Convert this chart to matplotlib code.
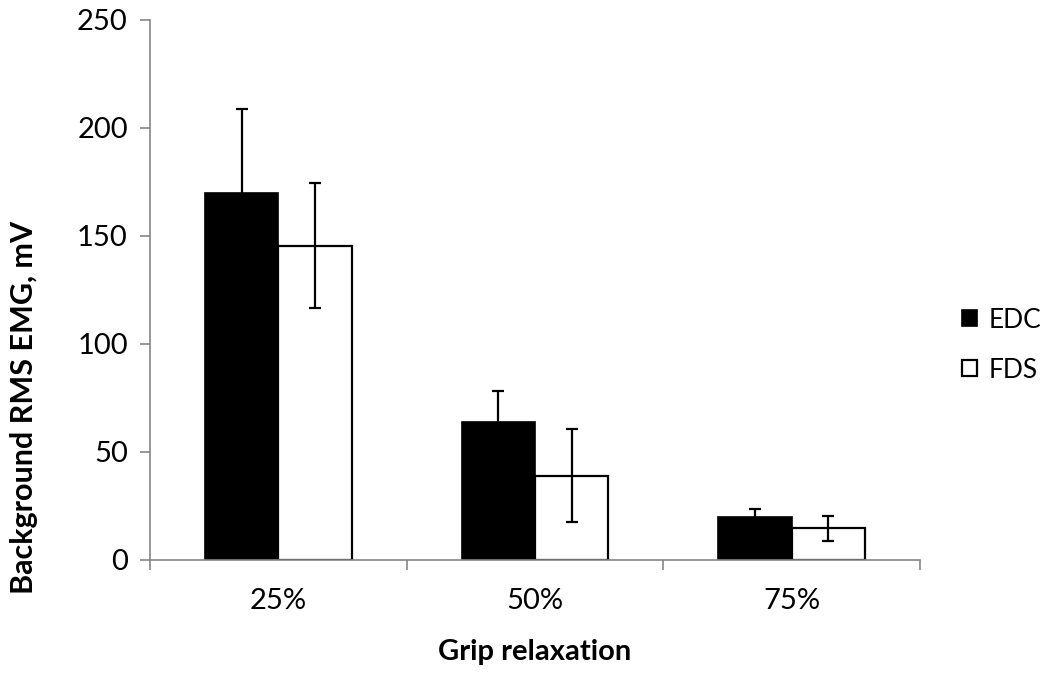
import matplotlib.pyplot as plt
import numpy as np

plt.rcParams['font.family'] = ['Lato', 'DejaVu Sans']

# data
groups = ['25%', '50%', '75%']
edc = [170.0, 64.0, 20.1]
edc_err = [38.6, 14.4, 3.5]
fds = [145.6, 39.1, 14.6]
fds_err = [28.8, 21.6, 5.8]

fig = plt.figure(figsize=(10.5, 6.74), dpi=100)
ax = fig.add_axes([150/1050, 114/674, 770/1050, 540/674])

x = np.arange(len(groups)) + 0.5
w = 0.2855
ekw = dict(ecolor='black', elinewidth=1.6, capsize=4.5, capthick=1.6)

ax.bar(x - w/2, edc, w, yerr=edc_err, color='black', edgecolor='black',
       linewidth=1.2, label='EDC', error_kw=ekw)
ax.bar(x + w/2, fds, w, yerr=fds_err, color='white', edgecolor='black',
       linewidth=1.6, label='FDS', error_kw=ekw)

ax.set_xlim(0, 3)
ax.set_ylim(0, 250)
ax.set_yticks(np.arange(0, 251, 50))
ax.set_xticks([0, 1, 2, 3])
ax.set_xticklabels([])
ax.set_xticks(x, minor=True)
ax.set_xticklabels(groups, minor=True)
ax.tick_params(axis='x', which='minor', length=0, pad=20, labelsize=21)
ax.tick_params(axis='x', which='major', length=7, color='#868686', width=1.2)
ax.tick_params(axis='y', length=7, color='#868686', width=1.2, pad=9, labelsize=21)

for s in ['top', 'right']:
    ax.spines[s].set_visible(False)
for s in ['left', 'bottom']:
    ax.spines[s].set_color('#868686')
    ax.spines[s].set_linewidth(1.2)

ax.set_xlabel('Grip relaxation', fontsize=21, fontweight='bold', labelpad=18)
ax.set_ylabel('Background RMS EMG, mV', fontsize=22, fontweight='bold')
# title sits low on the left, as in the source chart
ax.yaxis.set_label_coords(-0.145, 0.283)

ax.legend(loc='center left', bbox_to_anchor=(1.055, 0.398), frameon=False,
          fontsize=19, handlelength=0.55, handleheight=0.55, handletextpad=0.45,
          labelspacing=0.95, borderpad=0, borderaxespad=0)

fig.savefig('out.png', dpi=100)
